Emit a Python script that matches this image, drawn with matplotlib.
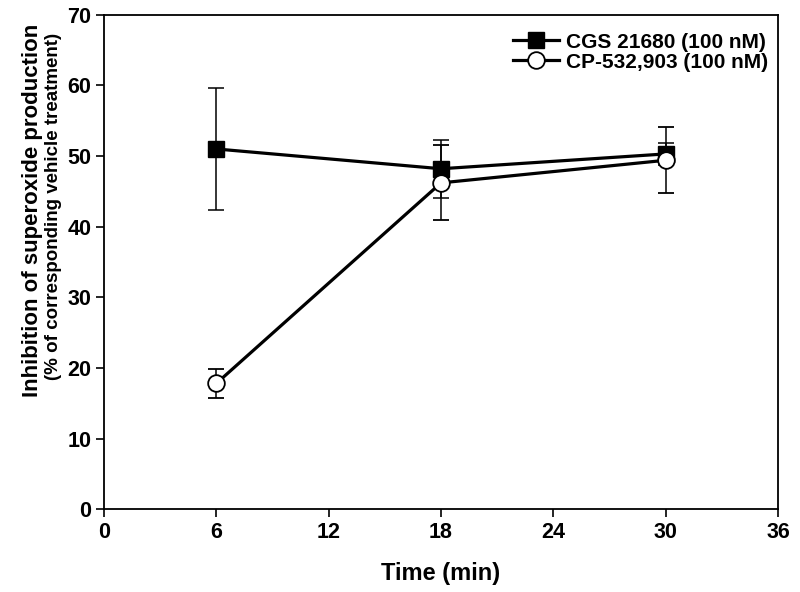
import matplotlib
matplotlib.use("Agg")
import matplotlib.pyplot as plt

time = [6, 18, 30]
cgs_mean = [51.0, 48.2, 50.3]
cgs_err = [8.7, 4.1, 1.6]
cp_mean = [17.8, 46.2, 49.4]
cp_err = [2.1, 5.3, 4.7]
labels = ["CGS 21680 (100 nM)", "CP-532,903 (100 nM)"]
xticks = [0, 6, 12, 18, 24, 30, 36]
yticks = [0, 10, 20, 30, 40, 50, 60, 70]

plt.rcParams['font.family'] = ['Liberation Sans', 'DejaVu Sans']
plt.rcParams['font.weight'] = 'bold'

fig = plt.figure(figsize=(8, 5.92), dpi=100)
ax = fig.add_axes([0.13, 0.14, 0.8425, 0.835])

ax.errorbar(time, cgs_mean, yerr=cgs_err, color='black', lw=2.3, marker='s', ms=11.5,
            mfc='black', mec='black', elinewidth=1.1, capsize=6, capthick=1.1,
            label=labels[0], zorder=3)
ax.errorbar(time, cp_mean, yerr=cp_err, color='black', lw=2.3, marker='o', ms=12,
            mfc='white', mec='black', mew=1.3, elinewidth=1.1, capsize=6, capthick=1.1,
            label=labels[1], zorder=4)

ax.set_xlim(0, 36)
ax.set_ylim(0, 70)
ax.set_xticks(xticks)
ax.set_yticks(yticks)
ax.tick_params(direction='out', length=6, width=1.2, labelsize=15.5, pad=3)
for lab in ax.get_xticklabels() + ax.get_yticklabels():
    lab.set_fontweight('bold')
for s in ax.spines.values():
    s.set_linewidth(1.3)

ax.set_xlabel("Time (min)", fontsize=17, fontweight='bold', labelpad=14)
fig.text(0.041, 0.644, "Inhibition of superoxide production", rotation=90,
         ha='center', va='center', fontsize=16, fontweight='bold')
fig.text(0.067, 0.652, "(% of corresponding vehicle treatment)", rotation=90,
         ha='center', va='center', fontsize=13.5, fontweight='bold')

handles, labs = ax.get_legend_handles_labels()
handles = [h[0] for h in handles]
leg = ax.legend(handles, labs, loc='upper right', bbox_to_anchor=(0.997, 0.981),
                frameon=False, fontsize=15, handlelength=2.2, handletextpad=0.3,
                borderaxespad=0.0, labelspacing=0.05)
for t in leg.get_texts():
    t.set_fontweight('bold')

fig.savefig("out.png", dpi=100)
